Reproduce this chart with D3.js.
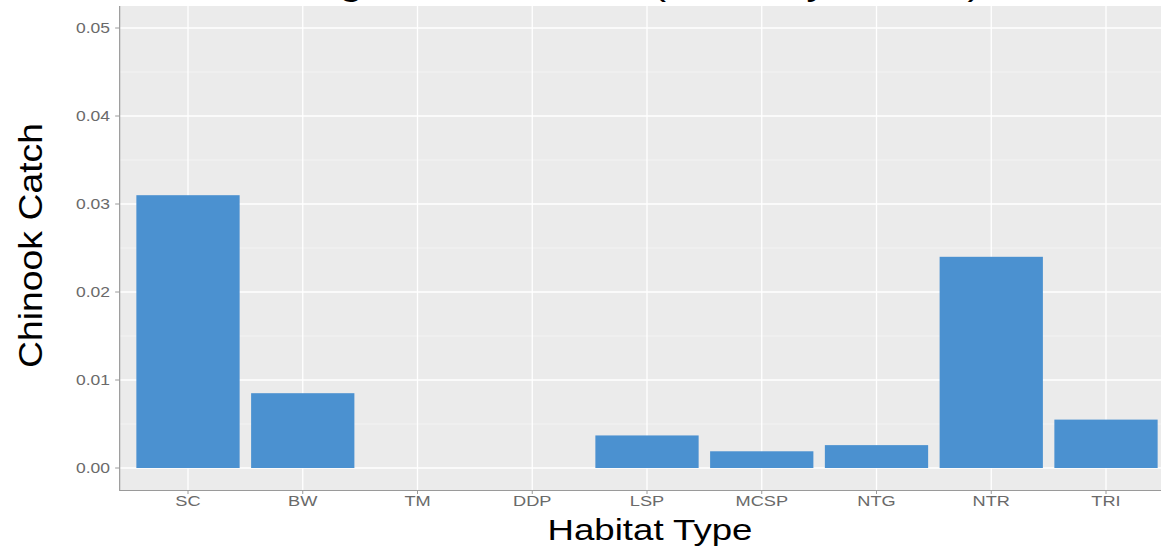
<!DOCTYPE html>
<html><head><meta charset="utf-8">
<script src="https://cdn.jsdelivr.net/npm/d3@7"></script>
<style>html,body{margin:0;padding:0;background:#fff;overflow:hidden}</style>
</head><body><svg id="c" width="1161" height="556"></svg>
<script>
const categories = ["SC","BW","TM","DDP","LSP","MCSP","NTG","NTR","TRI"];
const catchValues = [0.0310,0.0085,0,0,0.0037,0.0019,0.0026,0.0240,0.0055];
const yTicks = [0,0.01,0.02,0.03,0.04,0.05];
const yTickLabels = ["0.00","0.01","0.02","0.03","0.04","0.05"];
const yMinorTicks = [0.005,0.015,0.025,0.035,0.045];
const titleText = "Avg Chinook Catch (Catch by Habitat)";
const xTitle = "Habitat Type";
const yTitle = "Chinook Catch";

const svg = d3.select("#c");
const font = "'Liberation Sans', Arial, sans-serif";
const P = {left:119.15, right:1174.85, top:6, bottom:490};

const x = d3.scaleBand().domain(categories).range([P.left,P.right]).paddingInner(0.1).paddingOuter(0.15);
const y = d3.scaleLinear().domain([-0.0025,0.0525]).range([P.bottom,P.top]);

// panel
svg.append("rect").attr("x",P.left).attr("y",P.top).attr("width",P.right-P.left).attr("height",P.bottom-P.top).attr("fill","#ebebeb");
// minor grid
svg.append("g").selectAll("line").data(yMinorTicks).join("line")
  .attr("x1",P.left).attr("x2",P.right).attr("y1",d=>y(d)).attr("y2",d=>y(d))
  .attr("stroke","#f7f7f7").attr("stroke-width",0.7);
// major grid
svg.append("g").selectAll("line").data(yTicks).join("line")
  .attr("x1",P.left).attr("x2",P.right).attr("y1",d=>y(d)).attr("y2",d=>y(d))
  .attr("stroke","#fff").attr("stroke-width",1.3);
svg.append("g").selectAll("line").data(categories).join("line")
  .attr("x1",d=>x(d)+x.bandwidth()/2).attr("x2",d=>x(d)+x.bandwidth()/2).attr("y1",P.top).attr("y2",P.bottom)
  .attr("stroke","#fff").attr("stroke-width",1.3);

// bars
svg.append("g").selectAll("rect").data(categories).join("rect")
  .attr("x",d=>x(d)).attr("width",x.bandwidth())
  .attr("y",(d,i)=>y(catchValues[i])).attr("height",(d,i)=>y(0)-y(catchValues[i]))
  .attr("fill","#4b91d0");

// axis lines
svg.append("line").attr("x1",P.left+0.5).attr("x2",P.left+0.5).attr("y1",P.top).attr("y2",P.bottom+0.5).attr("stroke","#9a9a9a").attr("stroke-width",1.2);
svg.append("line").attr("x1",P.left).attr("x2",P.right).attr("y1",P.bottom+0.5).attr("y2",P.bottom+0.5).attr("stroke","#9a9a9a").attr("stroke-width",1.2);

// y ticks & labels
const yg = svg.append("g");
yg.selectAll("line").data(yTicks).join("line")
  .attr("x1",P.left-4).attr("x2",P.left).attr("y1",d=>y(d)).attr("y2",d=>y(d)).attr("stroke","#9a9a9a");
yg.selectAll("text").data(yTicks).join("text")
  .attr("transform",d=>`translate(110,${y(d)+5}) scale(1.25,1)`)
  .attr("text-anchor","end").attr("font-family",font).attr("font-size",14).attr("fill","#6a6a6a")
  .text((d,i)=>yTickLabels[i]);

// x ticks & labels
const xg = svg.append("g");
xg.selectAll("line").data(categories).join("line")
  .attr("x1",d=>x(d)+x.bandwidth()/2).attr("x2",d=>x(d)+x.bandwidth()/2).attr("y1",P.bottom).attr("y2",P.bottom+4).attr("stroke","#9a9a9a");
xg.selectAll("text").data(categories).join("text")
  .attr("transform",d=>`translate(${x(d)+x.bandwidth()/2},506) scale(1.3,1)`)
  .attr("text-anchor","middle").attr("font-family",font).attr("font-size",14).attr("fill","#6a6a6a")
  .text(d=>d);

// axis titles
svg.append("text").attr("x",650).attr("y",540).attr("text-anchor","middle")
  .attr("font-family",font).attr("font-size",30).attr("fill","#000")
  .attr("textLength",205).attr("lengthAdjust","spacingAndGlyphs").text(xTitle);
svg.append("text").attr("transform","translate(42,245.5) rotate(-90)").attr("text-anchor","middle")
  .attr("font-family",font).attr("font-size",34).attr("fill","#000")
  .attr("textLength",245).attr("lengthAdjust","spacingAndGlyphs").text(yTitle);

// title (mostly cut off at top, as in the reference)
svg.append("text").attr("x",637).attr("y",-5.5).attr("text-anchor","middle")
  .attr("font-family",font).attr("font-size",34).attr("fill","#000")
  .attr("textLength",688).attr("lengthAdjust","spacingAndGlyphs").text(titleText);
</script></body></html>
